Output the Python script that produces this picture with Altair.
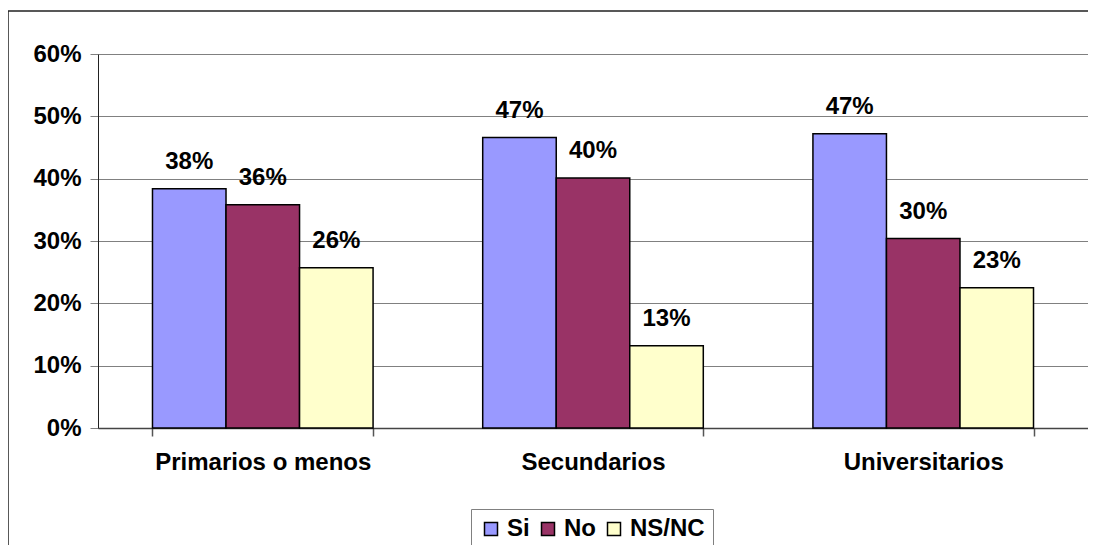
import altair as alt
import pandas as pd

categories = ["Primarios o menos", "Secundarios", "Universitarios"]
series = ["Si", "No", "NS/NC"]
si_values = [0.384, 0.466, 0.472]
no_values = [0.358, 0.401, 0.304]
nsnc_values = [0.257, 0.132, 0.225]
colors = ["#9999FF", "#993366", "#FFFFCC"]
y_ticks = [0, 0.1, 0.2, 0.3, 0.4, 0.5, 0.6]

rows = []
for i, c in enumerate(categories):
    for s, vals in zip(series, [si_values, no_values, nsnc_values]):
        rows.append({"cat": c, "serie": s, "value": vals[i]})
df = pd.DataFrame(rows)

FONT = "Liberation Sans"
FS = 24

base = alt.Chart(df).encode(
    x=alt.X("cat:N", sort=categories, title=None,
            scale=alt.Scale(paddingInner=0.332, paddingOuter=0.165),
            axis=alt.Axis(labelAngle=0, labelFont=FONT, labelFontSize=FS,
                          labelFontWeight="bold", labelColor="black",
                          labelLimit=400,
                          labelPadding=14, tickBand="extent", tickSize=8,
                          tickColor="#555555", tickWidth=1.5,
                          domainColor="#444444", domainWidth=1.5,
                          grid=False)),
    xOffset=alt.XOffset("serie:N", sort=series,
                        scale=alt.Scale(paddingInner=0, paddingOuter=0)),
    y=alt.Y("value:Q", title=None,
            scale=alt.Scale(domain=[0, 0.6], nice=False),
            axis=alt.Axis(values=y_ticks, format=".0%", labelFont=FONT,
                          labelFontSize=FS, labelFontWeight="bold",
                          labelColor="black", labelPadding=9, tickSize=8,
                          tickColor="#808080", domainColor="#222222",
                          gridColor="#808080", gridWidth=1)),
)

bars = base.mark_bar(stroke="black", strokeWidth=1.5).encode(
    color=alt.Color("serie:N", sort=series,
                    scale=alt.Scale(domain=series, range=colors),
                    legend=alt.Legend(orient="none", legendX=373, legendY=455,
                                      direction="horizontal", title=None,
                                      strokeColor="#808080", fillColor="white",
                                      padding=8, symbolType="square",
                                      symbolSize=169, symbolStrokeColor="black",
                                      symbolStrokeWidth=1.5, symbolOpacity=1,
                                      labelFont=FONT, labelFontSize=FS,
                                      labelFontWeight="bold", labelColor="black",
                                      labelOffset=4, columnPadding=6)),
)

labels = base.mark_text(dy=-27, font=FONT, fontSize=FS, fontWeight="bold",
                        color="black").encode(
    text=alt.Text("value:Q", format=".0%"))

frame = alt.Chart(alt.Data(values=[{}])).mark_rect(
    fillOpacity=0, stroke="#222222", strokeWidth=1.5).encode(
    x=alt.value(-90), x2=alt.value(1100), y=alt.value(-43), y2=alt.value(700))

chart = alt.layer(frame, bars, labels).properties(
    width=990, height=374,
    padding={"left": 90, "top": 46, "right": 0, "bottom": 117},
    autosize=alt.AutoSizeParams(type="none"),
).configure_view(stroke="#808080", strokeWidth=2).configure(background="white")

chart.save("out.html", embed_options={"renderer": "svg", "actions": False})
